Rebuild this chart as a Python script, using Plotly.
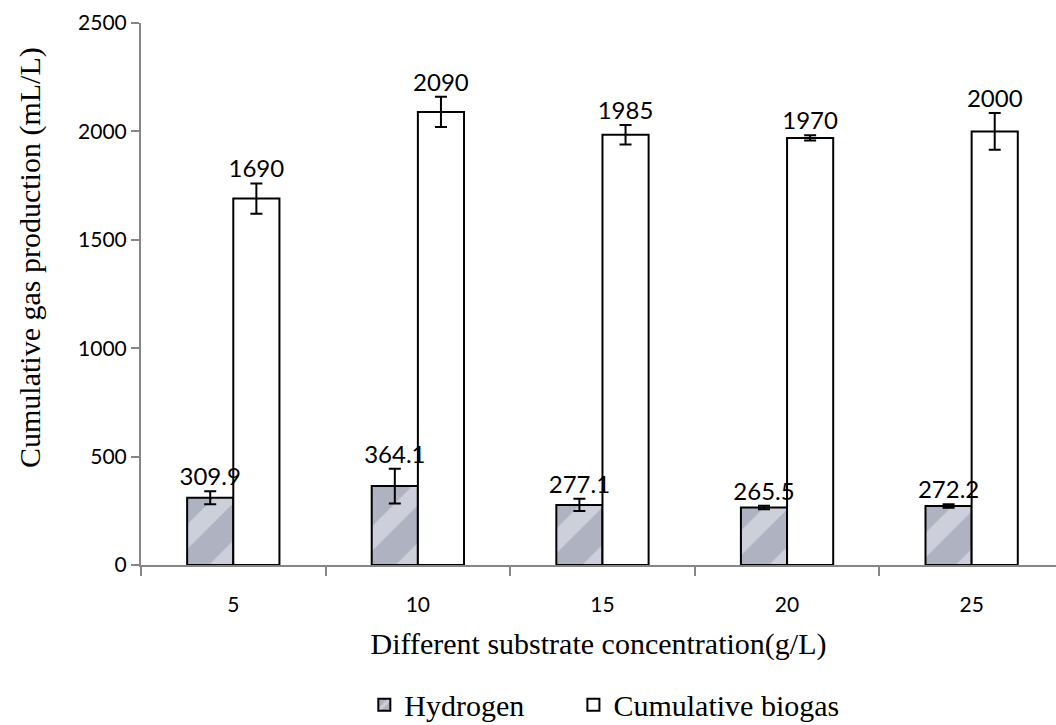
import plotly.graph_objects as go

# Substrate concentration groups (g/L)
concentrations = ["5", "10", "15", "20", "25"]

# Cumulative hydrogen production (mL/L) and its error
hydrogen = [309.9, 364.1, 277.1, 265.5, 272.2]
hydrogen_err = [30, 80, 28, 8, 8]

# Cumulative biogas production (mL/L) and its error
biogas = [1690, 2090, 1985, 1970, 2000]
biogas_err = [70, 70, 45, 12, 85]

y_ticks = [0, 500, 1000, 1500, 2000, 2500]

idx = list(range(len(concentrations)))
BAR_W = 0.25
AXIS_GREY = "#868686"
SERIF = "Liberation Serif"
SANS = "Lato"

fig = go.Figure()

fig.add_bar(
    x=idx, y=hydrogen, width=BAR_W, offset=-BAR_W, name="Hydrogen",
    legend="legend",
    marker=dict(
        color="#b3b6c5",
        line=dict(color="black", width=2),
        pattern=dict(shape="/", bgcolor="#aeb2c1", fgcolor="#eceef3",
                     size=44, solidity=0.4),
    ),
    error_y=dict(type="data", array=hydrogen_err, color="black",
                 thickness=2, width=6),
)
fig.add_bar(
    x=idx, y=biogas, width=BAR_W, offset=0, name="Cumulative biogas",
    legend="legend2",
    marker=dict(color="white", line=dict(color="black", width=2)),
    error_y=dict(type="data", array=biogas_err, color="black",
                 thickness=2, width=6),
)

# Value labels sit just above each error bar
fig.add_scatter(
    x=[i - BAR_W / 2 for i in idx],
    y=[v + e for v, e in zip(hydrogen, hydrogen_err)],
    text=[f"{v:.1f}" for v in hydrogen],
    mode="text", textposition="top center", showlegend=False,
    textfont=dict(family=SANS, size=24, color="black"), hoverinfo="skip",
)
fig.add_scatter(
    x=[i + BAR_W / 2 for i in idx],
    y=[v + e for v, e in zip(biogas, biogas_err)],
    text=[f"{v:g}" for v in biogas],
    mode="text", textposition="top center", showlegend=False,
    textfont=dict(family=SANS, size=24, color="black"), hoverinfo="skip",
)

legend_style = dict(
    orientation="h", xref="container", yref="container",
    xanchor="left", y=0.028, yanchor="middle",
    font=dict(family=SERIF, size=30, color="black"),
    itemwidth=30, bgcolor="rgba(0,0,0,0)",
)

fig.update_layout(
    width=1056, height=725,
    margin=dict(l=141, r=0, t=23, b=160),
    paper_bgcolor="white", plot_bgcolor="white",
    barmode="overlay",
    showlegend=True,
    legend=dict(legend_style, x=0.345),
    legend2=dict(legend_style, x=0.543),
    xaxis=dict(
        range=[-0.5, 4.457],
        tickmode="array", tickvals=idx, ticktext=concentrations,
        ticks="", showgrid=False, zeroline=False,
        showline=True, linecolor=AXIS_GREY, linewidth=2,
        tickfont=dict(family=SANS, size=21, color="black"),
        ticklabelstandoff=20,
        minor=dict(tick0=-0.5, dtick=1, ticks="outside", ticklen=9,
                   tickcolor=AXIS_GREY, tickwidth=2, showgrid=False),
        title=dict(text="Different substrate concentration(g/L)",
                   font=dict(family=SERIF, size=30, color="black"),
                   standoff=18),
    ),
    yaxis=dict(
        range=[0, 2500], tickvals=y_ticks,
        ticks="outside", ticklen=8, tickcolor=AXIS_GREY, tickwidth=2,
        showgrid=False, zeroline=False,
        showline=True, linecolor=AXIS_GREY, linewidth=2,
        tickfont=dict(family=SANS, size=21, color="black"),
    ),
    annotations=[dict(
        text="Cumulative gas production (mL/L)", textangle=-90,
        xref="paper", x=0, xanchor="center", xshift=-111,
        yref="paper", y=0.5, yanchor="middle", yshift=36,
        showarrow=False, font=dict(family=SERIF, size=30, color="black"),
    )],
)

fig.write_html("out.html")
